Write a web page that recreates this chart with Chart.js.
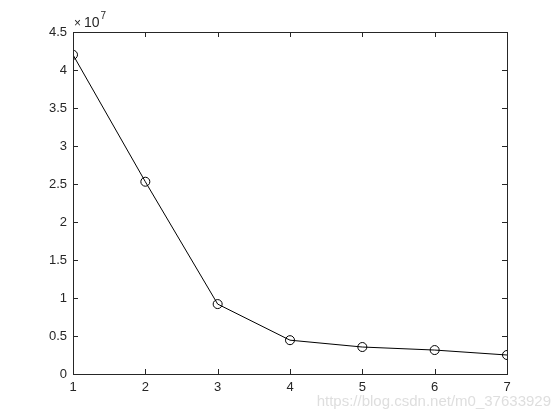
<!DOCTYPE html>
<html>
<head>
<meta charset="utf-8">
<script src="https://cdn.jsdelivr.net/npm/chart.js@4.4.1/dist/chart.umd.min.js"></script>
<style>
  html, body { margin: 0; padding: 0; background: #fff; }
  #wrap { width: 560px; height: 420px; }
</style>
</head>
<body>
<div id="wrap"><canvas id="plot" width="560" height="420"></canvas></div>
<script>
const xValues = [1, 2, 3, 4, 5, 6, 7];
const yValues = [4.20e7, 2.53e7, 0.92e7, 0.445e7, 0.355e7, 0.315e7, 0.25e7];
const yTicks  = [0, 0.5e7, 1e7, 1.5e7, 2e7, 2.5e7, 3e7, 3.5e7, 4e7, 4.5e7];
const expLabel = '7';
const watermark = 'https://blog.csdn.net/m0_37633929';

const axisColor = '#262626';
const font = { family: 'Liberation Sans, Arial', size: 13 };

// matlab style box, inward ticks, exponent and watermark
const boxPlugin = {
  id: 'box',
  afterDraw(chart) {
    const { ctx, chartArea: a, scales } = chart;
    const len = 5;
    ctx.save();
    ctx.strokeStyle = axisColor;
    ctx.lineWidth = 1;
    ctx.strokeRect(Math.round(a.left) + 0.5, Math.round(a.top) + 0.5,
                   Math.round(a.right - a.left), Math.round(a.bottom - a.top));
    ctx.beginPath();
    xValues.forEach(v => {
      const px = Math.round(scales.x.getPixelForValue(v)) + 0.5;
      ctx.moveTo(px, a.bottom); ctx.lineTo(px, a.bottom - len);
      ctx.moveTo(px, a.top);    ctx.lineTo(px, a.top + len);
    });
    yTicks.forEach(v => {
      const py = Math.round(scales.y.getPixelForValue(v)) + 0.5;
      ctx.moveTo(a.left, py);  ctx.lineTo(a.left + len, py);
      ctx.moveTo(a.right, py); ctx.lineTo(a.right - len, py);
    });
    ctx.stroke();

    // ×10^7 above the y axis
    ctx.fillStyle = axisColor;
    ctx.textBaseline = 'alphabetic';
    ctx.textAlign = 'left';
    const base = a.top - 5;
    ctx.font = '12px Liberation Sans, Arial';
    ctx.fillText('\u00d7', a.left + 1, base);
    ctx.font = '14px Liberation Sans, Arial';
    ctx.fillText('10', a.left + 11, base);
    const w = ctx.measureText('10').width;
    ctx.font = '10px Liberation Sans, Arial';
    ctx.fillText(expLabel, a.left + 12 + w, base - 8);

    ctx.font = '15px Liberation Sans, Arial';
    ctx.fillStyle = 'rgba(200,200,200,0.6)';
    ctx.textAlign = 'right';
    ctx.fillText(watermark, 551, 406);
    ctx.restore();
  }
};

new Chart(document.getElementById('plot').getContext('2d'), {
  type: 'line',
  data: {
    datasets: [{
      data: xValues.map((x, i) => ({ x, y: yValues[i] })),
      borderColor: '#000',
      borderWidth: 1,
      pointStyle: 'circle',
      pointRadius: 4.5,
      pointBorderWidth: 1,
      pointBorderColor: '#000',
      pointBackgroundColor: 'rgba(0,0,0,0)',
      tension: 0,
      fill: false,
    }],
  },
  options: {
    responsive: false,
    animation: false,
    layout: { padding: { top: 32, right: 53, left: 0, bottom: 0 } },
    plugins: { legend: { display: false }, tooltip: { enabled: false } },
    scales: {
      x: {
        type: 'linear',
        min: 1, max: 7,
        afterBuildTicks: s => { s.ticks = xValues.map(v => ({ value: v })); },
        afterFit: s => { s.height = 46; },
        grid: { display: false, drawTicks: false },
        border: { display: false },
        ticks: { color: axisColor, font, padding: 6, maxRotation: 0 },
      },
      y: {
        min: 0, max: 4.5e7,
        afterBuildTicks: s => { s.ticks = yTicks.map(v => ({ value: v })); },
        afterFit: s => { s.width = 73; },
        grid: { display: false, drawTicks: false },
        border: { display: false },
        ticks: { color: axisColor, font, padding: 6, callback: v => String(+(v / 1e7).toFixed(1)) },
      },
    },
  },
  plugins: [boxPlugin],
});
</script>
</body>
</html>
